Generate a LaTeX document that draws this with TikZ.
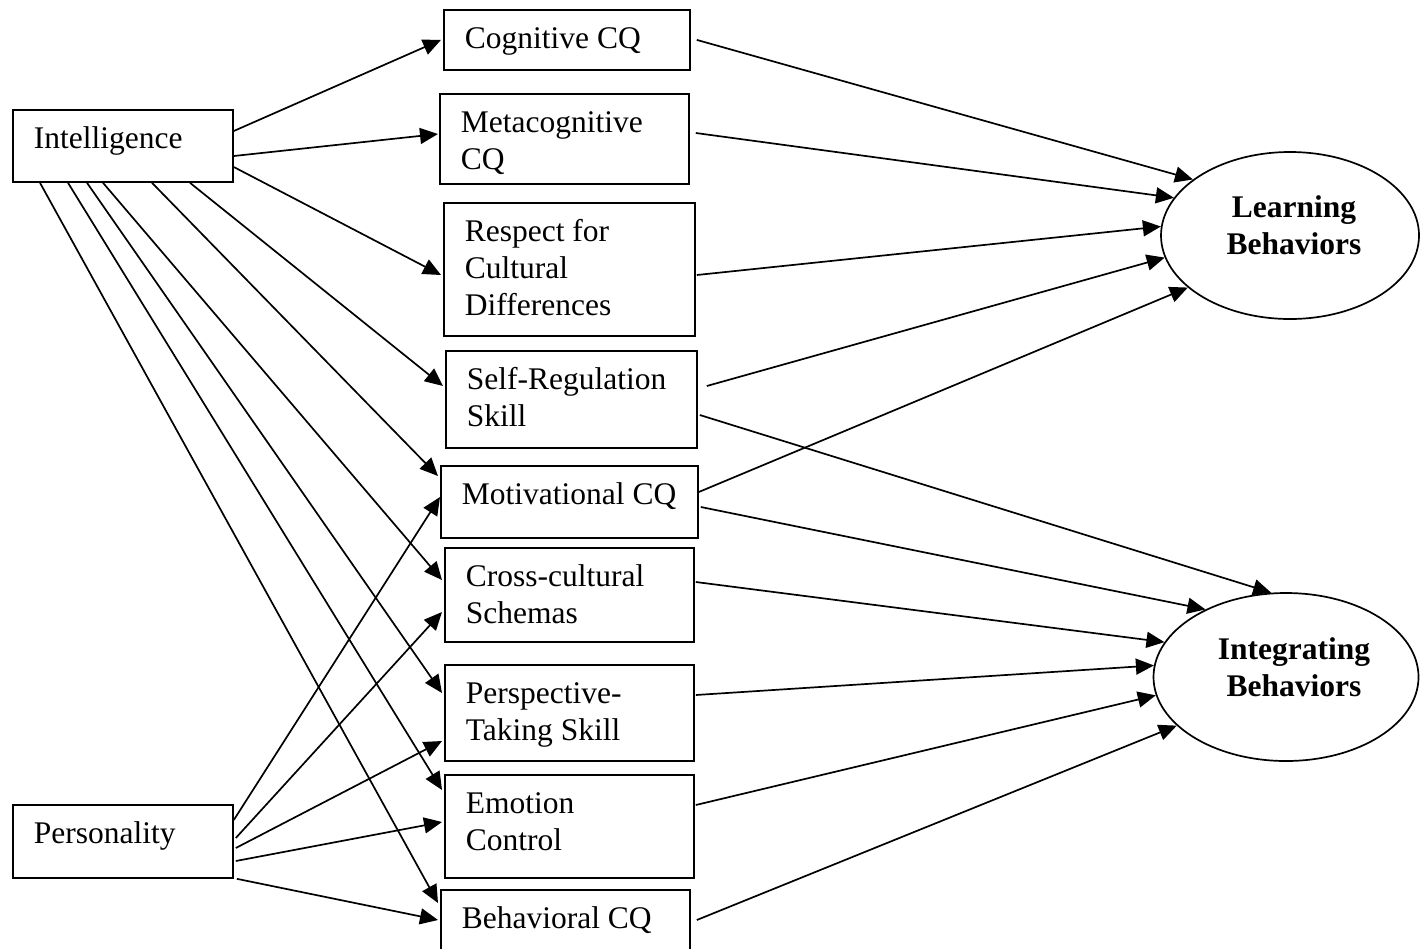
\documentclass[tikz,border=0pt]{standalone}
\usepackage{fontspec}
\setmainfont{Liberation Serif}
\usetikzlibrary{arrows.meta,calc,shapes.geometric}

\newcommand{\bxt}[3]{\parbox[c][#2pt][t]{#1pt}{\raggedright\leftskip=21pt\rule{0pt}{38.5pt}#3}}

\tikzset{
 box/.style={draw, line width=1.8pt, inner sep=0pt, anchor=north west, font=\fontsize{31.5}{37}\selectfont},
 oval/.style={draw, ellipse, line width=1.7pt, inner sep=0pt},
 ovaltext/.style={font=\fontsize{31.5}{37}\selectfont\bfseries, align=center, inner sep=0pt},
 link/.style={line width=1.7pt, -{Triangle[length=18pt,width=16pt]}},
}

\begin{document}
\begin{tikzpicture}[x=1pt,y=-1pt]
\useasboundingbox (0,0) rectangle (1420,948);

% sources
\node[box] (intel) at (12,109) {\bxt{220}{72}{Intelligence}};
\node[box] (pers)  at (12,804) {\bxt{220}{73}{Personality}};

% middle boxes
\node[box] (cog)   at (443,9)   {\bxt{246}{60}{Cognitive CQ}};
\node[box] (meta)  at (439,93)  {\bxt{249}{90}{Metacognitive\\CQ}};
\node[box] (resp)  at (443,202) {\bxt{251}{133}{Respect for\\Cultural\\Differences}};
\node[box] (self)  at (445,350) {\bxt{251}{97}{Self-Regulation\\Skill}};
\node[box] (moti)  at (440,465) {\bxt{257}{72}{Motivational CQ}};
\node[box] (cross) at (444,547) {\bxt{249}{94}{Cross-cultural\\Schemas}};
\node[box] (persp) at (444,664) {\bxt{249}{96}{Perspective-\\Taking Skill}};
\node[box] (emot)  at (444,774) {\bxt{249}{103}{Emotion\\Control}};
\node[box] (behav) at (440,889) {\bxt{249}{75}{Behavioral CQ}};

% outcomes
\node[oval, minimum width=258pt, minimum height=167pt] (learn) at (1290,235.5) {};
\node[ovaltext] (learnt) at (1294,225) {Learning\\Behaviors};
\node[oval, minimum width=265pt, minimum height=168pt] (integ) at (1286,677) {};
\node[ovaltext] (integt) at (1294,667) {Integrating\\Behaviors};

% Intelligence links
\draw[link] ($(intel.north east)+(0,22)$) -- ($(cog.west)+(-2,0)$);
\draw[link] ($(intel.north east)+(0,47)$) -- ($(meta.north west)+(-1,41)$);
\draw[link] ($(intel.north east)+(0,58)$) -- ($(resp.north west)+(-2,73)$);
\draw[link] ($(intel.south west)+(178,0)$) -- ($(self.north west)+(-2,36)$);
\draw[link] ($(intel.south west)+(140,0)$) -- ($(moti.north west)+(-2,11)$);
\draw[link] ($(intel.south west)+(91,0)$) -- ($(cross.north west)+(-2,33)$);
\draw[link] ($(intel.south west)+(75,0)$) -- ($(persp.north west)+(-2,29)$);
\draw[link] ($(intel.south west)+(56,0)$) -- ($(emot.north west)+(-2,16)$);
\draw[link] ($(intel.south west)+(28,0)$) -- ($(behav.north west)+(-2,14)$);

% Personality links
\draw[link] ($(pers.north east)+(0,16)$) -- ($(moti.north west)+(0,32)$);
\draw[link] ($(pers.north east)+(2,34)$) -- ($(cross.north west)+(-2,65)$);
\draw[link] ($(pers.north east)+(2,44)$) -- ($(persp.north west)+(-2,77)$);
\draw[link] ($(pers.north east)+(2,57)$) -- ($(emot.north west)+(-2,48)$);
\draw[link] ($(pers.south east)+(3,0)$) -- ($(behav.north west)+(-2,31)$);

% to Learning Behaviors
\draw[link] ($(cog.east)+(6,0)$) -- (learn.150);
\draw[link] ($(meta.north east)+(6,40)$) -- (learn.162);
\draw[link] ($(resp.north east)+(1,73)$) -- (learn.176);
\draw[link] ($(self.north east)+(9,36)$) -- (learn.190);
\draw[link] ($(moti.north east)+(0,27)$) -- (learn.207);

% to Integrating Behaviors
\draw[link] ($(self.north east)+(2,65)$) -- (integ.100);
\draw[link] ($(moti.north east)+(2,42)$) -- (integ.140);
\draw[link] ($(cross.north east)+(1,35)$) -- (integ.164);
\draw[link] ($(persp.north east)+(1,31)$) -- (integ.175);
\draw[link] ($(emot.north east)+(1,31)$) -- (integ.188);
\draw[link] ($(behav.north east)+(6,31)$) -- (integ.204);
\end{tikzpicture}
\end{document}
